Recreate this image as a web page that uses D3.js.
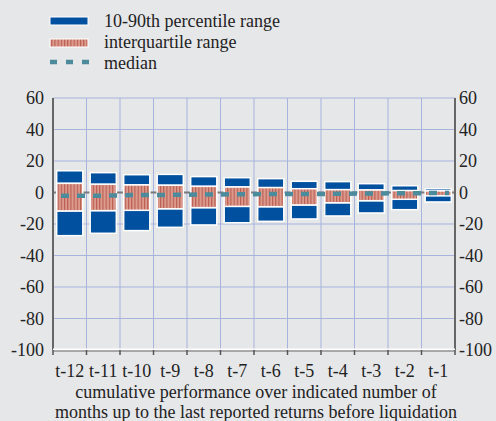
<!DOCTYPE html>
<html><head><meta charset="utf-8">
<script src="https://cdn.jsdelivr.net/npm/d3@7"></script>
<style>body{margin:0;background:#e6e7e9;font-family:"Liberation Serif",serif;}</style>
</head><body>
<script>
const categories = ["t-12","t-11","t-10","t-9","t-8","t-7","t-6","t-5","t-4","t-3","t-2","t-1"];
const p90 = [13.8,12.6,11.3,11.5,10.1,9.4,8.8,7.1,6.9,5.6,4.3,2.4];
const p75 = [5.8,5.2,4.8,4.6,3.9,3.5,3.1,2.4,1.8,1.6,1.2,1.0];
const p25 = [-11.7,-11.5,-11.3,-10.3,-9.6,-8.8,-9.0,-7.9,-6.5,-5.2,-4.3,-2.0];
const p10 = [-27.4,-25.9,-24.2,-22.1,-20.6,-19.2,-18.3,-16.8,-14.9,-13.0,-10.9,-6.0];
const median = [-2.0,-2.0,-1.6,-1.5,-1.3,-1.1,-1.0,-1.0,-0.8,-0.6,-0.5,-0.3];
const yTicks = [60,40,20,0,-20,-40,-60,-80,-100];
const legendLabels = ["10-90th percentile range","interquartile range","median"];
const xTitle = ["cumulative performance over indicated number of","months up to the last reported returns before liquidation"];

const W=496,H=421, L=53, R=455, T=98, B=350;
const FONT = "Liberation Serif";
const FS = 18;
const svg = d3.select("body").append("svg").attr("width",W).attr("height",H)
  .attr("font-family",FONT).style("font-family","Liberation Serif, serif").style("display","block");
svg.append("rect").attr("width",W).attr("height",H).attr("fill","#e6e7e9");
const defs = svg.append("defs");
const pat = defs.append("pattern").attr("id","stripes").attr("patternUnits","userSpaceOnUse").attr("width",3.2).attr("height",10);
pat.append("rect").attr("width",3.2).attr("height",10).attr("fill","#dc9a8c");
pat.append("rect").attr("width",1.1).attr("height",10).attr("fill","#b85c52");

const x = d3.scaleBand().domain(categories).range([L,R]).paddingInner(0.22).paddingOuter(0.11);
const y = d3.scaleLinear().domain([-100,60]).range([B,T]);
const xb = d3.scaleLinear().domain([0,categories.length]).range([L,R]);

// grid
const grid = svg.append("g").attr("stroke","#a7b3dc").attr("stroke-width",1);
grid.selectAll(".h").data(yTicks.filter(d=>d>-100)).join("line")
  .attr("x1",L).attr("x2",R).attr("y1",d=>y(d)).attr("y2",d=>y(d));
grid.selectAll(".v").data(d3.range(1,categories.length)).join("line")
  .attr("x1",d=>xb(d)).attr("x2",d=>xb(d)).attr("y1",T).attr("y2",B);

// zero line
svg.append("line").attr("x1",L).attr("x2",R).attr("y1",y(0)).attr("y2",y(0)).attr("stroke","#7a7a7a").attr("stroke-width",2);

// bars
const g = svg.append("g");
const idx = d3.range(categories.length);
function bar(cls, lo, hi, fill){
  g.selectAll("."+cls).data(idx).join("rect").attr("class",cls)
    .attr("x",i=>x(categories[i])).attr("width",x.bandwidth())
    .attr("y",i=>y(hi[i])).attr("height",i=>y(lo[i])-y(hi[i]))
    .attr("fill",fill).attr("stroke","#ffffff").attr("stroke-width",1.5);
}
bar("top",p75,p90,"#0050a0");
bar("bot",p10,p25,"#0050a0");
bar("iqr",p25,p75,"url(#stripes)");

// median
svg.append("path").datum(median)
  .attr("d", d3.line().x((d,i)=>i===0?L+8:(i===median.length-1?R-6:x(categories[i])+x.bandwidth()/2)).y(d=>y(d)))
  .attr("fill","none").attr("stroke","#4b8b9b").attr("stroke-width",4.5).attr("stroke-dasharray","8,8");

// axes lines
svg.append("line").attr("x1",L).attr("x2",L).attr("y1",T).attr("y2",B).attr("stroke","#666").attr("stroke-width",2);
svg.append("line").attr("x1",R).attr("x2",R).attr("y1",T).attr("y2",B).attr("stroke","#666").attr("stroke-width",2);
svg.append("line").attr("x1",L).attr("x2",R).attr("y1",B-0.5).attr("y2",B-0.5).attr("stroke","#ffffff").attr("stroke-width",2);
svg.append("line").attr("x1",L).attr("x2",R).attr("y1",B+1).attr("y2",B+1).attr("stroke","#666").attr("stroke-width",1.2);
svg.selectAll(".xt").data(d3.range(0,categories.length+1)).join("line")
  .attr("x1",d=>xb(d)).attr("x2",d=>xb(d)).attr("y1",B).attr("y2",B+5).attr("stroke","#555").attr("stroke-width",1.5);

function txt(sel){ return sel.attr("font-family",FONT).style("font-family","Liberation Serif, serif").attr("font-size",FS).attr("fill","#222"); }

// y tick labels
txt(svg.selectAll(".yl").data(yTicks).join("text").attr("class","yl").attr("x",44).attr("y",d=>y(d)+6).attr("text-anchor","end").text(d=>d));
txt(svg.selectAll(".yr").data(yTicks).join("text").attr("class","yr").attr("x",459).attr("y",d=>y(d)+6).attr("text-anchor","start").text(d=>d));

// x labels
txt(svg.selectAll(".xl").data(categories).join("text").attr("class","xl")
  .attr("x",d=>x(d)+x.bandwidth()/2).attr("y",377).attr("text-anchor","middle").text(d=>d));
txt(svg.selectAll(".xtitle").data(xTitle).join("text").attr("class","xtitle")
  .attr("x",256).attr("y",(d,i)=>398+i*19.5).attr("text-anchor","middle").text(d=>d));

// legend
const lg = svg.append("g");
lg.append("rect").attr("x",50).attr("y",17).attr("width",38).attr("height",8).attr("fill","#0050a0").attr("stroke","#fff").attr("stroke-width",1);
lg.append("rect").attr("x",50).attr("y",39).attr("width",38).attr("height",8).attr("fill","url(#stripes)").attr("stroke","#fff").attr("stroke-width",1);
lg.append("line").attr("x1",50).attr("x2",90).attr("y1",62).attr("y2",62).attr("stroke","#4b8b9b").attr("stroke-width",4.5).attr("stroke-dasharray","7,9");
txt(lg.selectAll(".lt").data(legendLabels).join("text").attr("class","lt")
  .attr("x",104).attr("y",(d,i)=>27+i*21).text(d=>d));
</script>
</body></html>
